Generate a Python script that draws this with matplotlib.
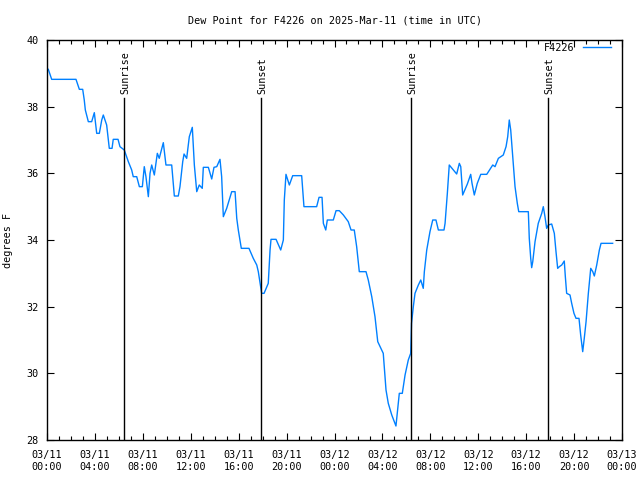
import matplotlib
matplotlib.use("Agg")
import matplotlib.pyplot as plt

# hours since 2025-03-11 00:00 UTC
hours = [0.11, 0.39, 2.42, 2.53, 2.70, 2.98, 3.11, 3.20, 3.45, 3.73, 3.95, 4.15, 4.37, 4.57, 4.70,
         4.98, 5.20, 5.43, 5.53, 5.93, 6.09, 6.45, 6.79, 7.07, 7.20, 7.49, 7.71, 7.96, 8.12, 8.26,
         8.46, 8.60, 8.74, 8.96, 9.21, 9.37, 9.71, 9.93, 10.41, 10.63, 10.96, 11.10, 11.33, 11.44,
         11.66, 11.88, 12.13, 12.30, 12.50, 12.71, 12.96, 13.05, 13.47, 13.75, 13.94, 14.17, 14.44,
         14.58, 14.72, 15.00, 15.42, 15.70, 15.84, 15.97, 16.22, 16.86, 17.22, 17.51, 17.64, 17.84,
         17.92, 18.12, 18.47, 18.62, 18.70, 19.12, 19.51, 19.73, 19.81, 19.95, 20.23, 20.51, 21.26,
         21.45, 22.51, 22.71, 22.96, 23.07, 23.27, 23.40, 23.90, 24.13, 24.40, 24.74, 25.15, 25.38,
         25.65, 25.85, 26.07, 26.63, 26.82, 27.11, 27.38, 27.61, 28.07, 28.30, 28.49, 28.78, 29.13,
         29.28, 29.41, 29.66, 29.89, 30.16, 30.36, 30.43, 30.58, 30.72, 31.00, 31.20, 31.41, 31.50,
         31.70, 31.97, 32.20, 32.47, 32.67, 33.14, 33.23, 33.42, 33.58, 34.20, 34.42, 34.54, 34.70,
         35.09, 35.37, 35.48, 35.67, 35.92, 36.21, 36.71, 37.21, 37.40, 37.68, 38.09, 38.32, 38.46,
         38.59, 38.71, 38.88, 39.07, 39.26, 39.38, 40.18, 40.26, 40.38, 40.46, 40.55, 40.74, 41.01,
         41.30, 41.43, 41.57, 41.71, 41.85, 42.13, 42.35, 42.49, 42.63, 42.77, 42.97, 43.18, 43.27,
         43.38, 43.66, 43.80, 43.99, 44.16, 44.41, 44.55, 44.72, 44.85, 45.00, 45.19, 45.33, 45.39,
         45.56, 45.69, 45.89, 46.11, 46.25, 47.22]
dewpoint = [39.12, 38.82, 38.82, 38.70, 38.52, 38.52, 38.20, 37.90, 37.55, 37.55, 37.82, 37.20, 37.20,
            37.60, 37.75, 37.45, 36.75, 36.75, 37.02, 37.02, 36.80, 36.70, 36.35, 36.10, 35.90, 35.90,
            35.60, 35.60, 36.20, 35.90, 35.30, 36.00, 36.25, 35.95, 36.60, 36.45, 36.92, 36.25, 36.25,
            35.32, 35.32, 35.60, 36.35, 36.58, 36.45, 37.10, 37.38, 36.25, 35.45, 35.65, 35.55, 36.18,
            36.18, 35.83, 36.18, 36.20, 36.42, 35.90, 34.70, 34.95, 35.45, 35.45, 34.65, 34.30, 33.75,
            33.75, 33.45, 33.25, 33.05, 32.58, 32.40, 32.40, 32.70, 33.70, 34.02, 34.02, 33.70, 34.00,
            35.20, 35.97, 35.65, 35.93, 35.93, 35.00, 35.00, 35.28, 35.28, 34.50, 34.30, 34.60, 34.60,
            34.88, 34.88, 34.75, 34.55, 34.30, 34.30, 33.80, 33.05, 33.05, 32.80, 32.30, 31.70, 30.95,
            30.60, 29.50, 29.10, 28.75, 28.42, 28.95, 29.40, 29.40, 29.95, 30.40, 30.60, 31.50, 32.00,
            32.40, 32.65, 32.80, 32.55, 33.05, 33.70, 34.25, 34.60, 34.60, 34.30, 34.30, 34.50, 35.40,
            36.25, 35.98, 36.30, 36.20, 35.35, 35.68, 35.97, 35.70, 35.35, 35.70, 35.97, 35.97, 36.25,
            36.20, 36.45, 36.55, 36.80, 37.10, 37.60, 37.30, 36.50, 35.60, 35.10, 34.85, 34.85, 34.05,
            33.45, 33.17, 33.35, 33.95, 34.50, 34.80, 35.00, 34.70, 34.35, 34.45, 34.48, 34.20, 33.65,
            33.15, 33.20, 33.25, 33.37, 32.90, 32.40, 32.35, 32.10, 31.80, 31.65, 31.65, 31.15, 30.65,
            31.05, 31.55, 32.40, 32.95, 33.15, 33.05, 32.92, 33.25, 33.70, 33.90, 33.90]

sun_hours = [6.45, 17.86, 30.40, 41.85]
sun_labels = ["Sunrise", "Sunset", "Sunrise", "Sunset"]

xtick_hours = [0, 4, 8, 12, 16, 20, 24, 28, 32, 36, 40, 44, 48]
xtick_labels = ["03/11\n00:00", "03/11\n04:00", "03/11\n08:00", "03/11\n12:00", "03/11\n16:00",
                "03/11\n20:00", "03/12\n00:00", "03/12\n04:00", "03/12\n08:00", "03/12\n12:00",
                "03/12\n16:00", "03/12\n20:00", "03/13\n00:00"]
ytick_vals = [28, 30, 32, 34, 36, 38, 40]

FONT = "DejaVu Sans Mono"
FS = 7.3

fig = plt.figure(figsize=(6.4, 4.8), dpi=100)
ax = fig.add_axes([47/640, 40/480, 575/640, 400/480])

ax.plot(hours, dewpoint, color="#0080ff", lw=1.0, label="F4226")

for h, lab in zip(sun_hours, sun_labels):
    ax.axvline(h, ymin=0, ymax=(440-98)/400, color="black", lw=1.0)
    ax.text(h + 0.1, (440-94)/400, lab, rotation=90, ha="center", va="bottom",
            transform=ax.get_xaxis_transform(), fontsize=FS, family=FONT)

ax.set_xlim(0, 48)
ax.set_ylim(28, 40)
ax.set_xticks(xtick_hours)
ax.set_xticklabels(xtick_labels, fontsize=FS, family=FONT, linespacing=1.28)
ax.set_xticks(range(0, 49), minor=True)
ax.set_yticks(ytick_vals)
ax.set_yticklabels([str(v) for v in ytick_vals], fontsize=FS, family=FONT)
ax.tick_params(which="major", direction="in", length=5, width=0.8, top=True, right=True)
ax.tick_params(axis="x", which="major", pad=7)
ax.tick_params(axis="y", which="major", pad=6)
ax.tick_params(which="minor", direction="in", length=3, width=0.8, top=True, right=False, left=False)
for s in ax.spines.values():
    s.set_linewidth(1.0)

ax.set_title("Dew Point for F4226 on 2025-Mar-11 (time in UTC)", fontsize=FS, family=FONT, pad=12)
ax.set_ylabel("degrees F", fontsize=FS, family=FONT, labelpad=10)

leg = ax.legend(loc="upper right", bbox_to_anchor=(0.986, 1.0), frameon=False,
                prop={"family": FONT, "size": FS}, handlelength=2.8, markerfirst=False,
                borderaxespad=0.0, borderpad=0.3, handletextpad=0.8)

fig.savefig("out.png", dpi=100)
